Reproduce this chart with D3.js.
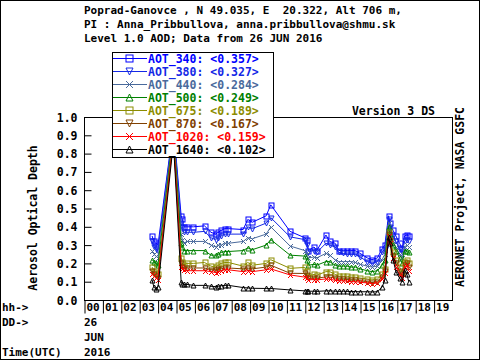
<!DOCTYPE html>
<html><head><meta charset="utf-8">
<script src="https://cdn.jsdelivr.net/npm/d3@7"></script>
<style>
body{margin:0;background:#fff}
svg{display:block}
text{font-family:"DejaVu Sans Mono",monospace;font-weight:bold;white-space:pre}
</style>
</head><body>
<svg id="c" width="480" height="360"></svg>
<script>
const hours = [3.70,3.80,3.91,4.02,4.86,5.28,5.35,5.42,5.60,5.95,6.55,6.90,7.15,7.30,7.45,7.65,7.85,8.65,8.90,9.15,9.90,10.15,11.20,12.00,12.10,12.20,12.50,12.65,13.15,13.35,13.65,13.85,14.10,14.30,14.50,14.75,15.00,15.40,15.65,15.95,16.20,16.35,16.55,16.63,16.80,16.95,17.15,17.30,17.42,17.55,17.65];
const aot340 = [0.35,0.32,0.31,0.30,0.95,0.46,0.44,0.40,0.40,0.40,0.405,0.37,0.36,0.37,0.38,0.39,0.39,0.385,0.44,0.425,0.46,0.52,0.375,0.34,0.33,0.27,0.29,0.27,0.355,0.32,0.31,0.27,0.27,0.27,0.27,0.27,0.255,0.23,0.22,0.23,0.28,0.30,0.46,0.42,0.38,0.35,0.31,0.28,0.35,0.355,0.35];
const aot380 = [0.32,0.29,0.28,0.27,0.94,0.42,0.40,0.37,0.37,0.37,0.375,0.34,0.33,0.34,0.35,0.36,0.36,0.36,0.40,0.39,0.42,0.45,0.345,0.33,0.30,0.265,0.27,0.26,0.31,0.30,0.29,0.26,0.255,0.25,0.25,0.25,0.235,0.21,0.20,0.21,0.26,0.28,0.44,0.40,0.35,0.32,0.28,0.26,0.32,0.33,0.32];
const aot440 = [0.27,0.25,0.24,0.23,0.93,0.36,0.33,0.31,0.32,0.32,0.32,0.30,0.29,0.30,0.30,0.31,0.31,0.32,0.34,0.335,0.36,0.40,0.295,0.27,0.25,0.23,0.235,0.23,0.255,0.245,0.22,0.21,0.21,0.21,0.21,0.205,0.195,0.185,0.18,0.185,0.22,0.25,0.42,0.38,0.32,0.29,0.25,0.23,0.29,0.30,0.29];
const aot500 = [0.22,0.21,0.20,0.19,0.92,0.31,0.29,0.27,0.27,0.27,0.27,0.245,0.245,0.25,0.26,0.265,0.265,0.27,0.285,0.275,0.30,0.33,0.245,0.24,0.22,0.19,0.195,0.19,0.21,0.21,0.19,0.185,0.185,0.185,0.18,0.18,0.17,0.16,0.155,0.16,0.19,0.22,0.40,0.36,0.30,0.27,0.23,0.20,0.27,0.27,0.26];
const aot675 = [0.18,0.16,0.15,0.14,0.90,0.23,0.21,0.19,0.20,0.20,0.205,0.185,0.18,0.19,0.20,0.205,0.205,0.185,0.205,0.19,0.20,0.22,0.173,0.178,0.16,0.13,0.14,0.135,0.155,0.155,0.14,0.13,0.13,0.13,0.125,0.125,0.12,0.115,0.11,0.115,0.14,0.17,0.37,0.33,0.26,0.22,0.18,0.15,0.21,0.22,0.20];
const aot870 = [0.16,0.14,0.13,0.12,0.89,0.20,0.18,0.17,0.175,0.175,0.175,0.165,0.165,0.17,0.17,0.175,0.175,0.17,0.175,0.17,0.18,0.19,0.146,0.145,0.135,0.118,0.12,0.118,0.127,0.125,0.12,0.115,0.115,0.112,0.11,0.11,0.105,0.10,0.095,0.10,0.125,0.16,0.36,0.32,0.24,0.20,0.16,0.13,0.19,0.20,0.18];
const aot1020 = [0.14,0.13,0.12,0.11,0.88,0.18,0.17,0.165,0.16,0.16,0.16,0.155,0.15,0.155,0.16,0.165,0.165,0.155,0.16,0.155,0.165,0.17,0.137,0.125,0.12,0.11,0.112,0.11,0.115,0.113,0.108,0.105,0.105,0.103,0.10,0.10,0.097,0.093,0.09,0.093,0.115,0.15,0.35,0.31,0.23,0.18,0.14,0.12,0.18,0.19,0.16];
const aot1640 = [0.11,0.07,0.06,0.07,0.86,0.10,0.09,0.085,0.085,0.08,0.08,0.075,0.073,0.075,0.078,0.08,0.08,0.068,0.066,0.064,0.063,0.063,0.055,0.05,0.05,0.048,0.048,0.047,0.05,0.05,0.048,0.047,0.048,0.047,0.046,0.046,0.045,0.045,0.044,0.045,0.07,0.11,0.345,0.31,0.22,0.155,0.12,0.10,0.165,0.14,0.10];

const seriesNames = ["AOT_340","AOT_380","AOT_440","AOT_500","AOT_675","AOT_870","AOT_1020","AOT_1640"];
const seriesMeans = ["0.357","0.327","0.284","0.249","0.189","0.167","0.159","0.102"];
const seriesColors = ["#0000ff","#1428e6","#4a6a9c","#008000","#8c8c00","#804000","#ff0000","#000000"];
const seriesMarkers = ["square","tridown","cross","triup","square","tridown","cross","triup"];
const yTicks = [0,0.1,0.2,0.3,0.4,0.5,0.6,0.7,0.8,0.9,1.0];
const hourTicks = [0,1,2,3,4,5,6,7,8,9,10,11,12,13,14,15,16,17,18,19];
const hourLabels = ["00","01","02","03","04","05","06","07","08","09","10","11","12","13","14","15","16","17","18","19"];
const headerLines = ["Poprad-Ganovce , N 49.035, E  20.322, Alt 706 m,","PI : Anna_Pribbullova, anna.pribbullova@shmu.sk","Level 1.0 AOD; Data from 26 JUN 2016"];

const values = [aot340,aot380,aot440,aot500,aot675,aot870,aot1020,aot1640];
const series = seriesNames.map((n,i)=>({name:n,mean:seriesMeans[i],color:seriesColors[i],marker:seriesMarkers[i],
  pts:hours.map((h,j)=>({h:h,v:values[i][j]}))}));

const svg = d3.select("#c");
const L=84,R=452,T=117,B=300;
const x = d3.scaleLinear().domain([0,20]).range([L,R]);
const y = d3.scaleLinear().domain([0,1]).range([B,T]);

// outer frame
svg.append("rect").attr("x",0.5).attr("y",0.5).attr("width",479).attr("height",359).attr("fill","none").attr("stroke","#000");

// header
svg.selectAll("text.hdr").data(headerLines).enter().append("text").attr("class","hdr")
  .attr("x",84).attr("y",(d,i)=>14+i*14).attr("font-size","11px").text(d=>d);

// plot box
svg.append("rect").attr("x",L+0.5).attr("y",T+0.5).attr("width",R-L).attr("height",B-T).attr("fill","none").attr("stroke","#000");

// y axis
const ya = svg.append("g").attr("transform",`translate(${L+0.5},0)`)
  .call(d3.axisLeft(y).tickValues(yTicks).tickSize(-7).tickSizeOuter(0).tickPadding(7).tickFormat(d3.format(".1f")));
ya.select(".domain").remove();
ya.selectAll("text").attr("font-size","11.5px").attr("font-family","DejaVu Sans Mono").attr("font-weight","bold").attr("dy","0.35em");
ya.selectAll("line").attr("stroke","#000");

// x axis
const xa = svg.append("g").attr("transform",`translate(0.5,${B+0.5})`)
  .call(d3.axisBottom(x).tickValues(hourTicks).tickSize(13).tickSizeOuter(0).tickFormat(i=>hourLabels[i]));
xa.select(".domain").remove();
xa.selectAll("text").attr("text-anchor","start").attr("x",1.5).attr("y",7).attr("dy","0.35em")
  .attr("font-size","11px").attr("font-family","DejaVu Sans Mono").attr("font-weight","bold");
xa.selectAll("line").attr("stroke","#000");

// left bottom labels
const lab = [["hh->",2,307],["DD->",2,322],["Time(UTC)",2,352],["26",84,322],["JUN",84,337],["2016",84,352]];
svg.selectAll("text.lab").data(lab).enter().append("text").attr("class","lab")
  .attr("x",d=>d[1]).attr("y",d=>d[2]).attr("dy","0.35em").attr("font-size","11px").text(d=>d[0]);

// y label
svg.append("text").attr("transform","translate(37,218) rotate(-90)").attr("text-anchor","middle")
  .attr("font-size","11.5px").text("Aerosol Optical Depth");
// right label
svg.append("text").attr("transform","translate(464,197) rotate(-90)").attr("text-anchor","middle")
  .attr("font-size","11.5px").text("AERONET Project, NASA GSFC");
svg.append("text").attr("x",435).attr("y",111).attr("dy","0.35em").attr("text-anchor","end")
  .attr("font-size","11.5px").text("Version 3 DS");

function marker(g,type,color,s){
  if(type==="square"){
    g.append("rect").attr("x",-s).attr("y",-s).attr("width",2*s).attr("height",2*s).attr("fill","none").attr("stroke",color);
  } else if(type==="triup"){
    g.append("path").attr("d",`M${-s},${s}L0,${-s}L${s},${s}Z`).attr("fill","none").attr("stroke",color);
  } else if(type==="tridown"){
    g.append("path").attr("d",`M${-s},${-s}L0,${s}L${s},${-s}Z`).attr("fill","none").attr("stroke",color);
  } else {
    g.append("path").attr("d",`M${-s},${-s}L${s},${s}M${-s},${s}L${s},${-s}`).attr("fill","none").attr("stroke",color);
  }
}

const line = d3.line().x(d=>x(d.h)).y(d=>y(d.v));
const plot = svg.append("g");
series.forEach(s=>{
  plot.append("path").datum(s.pts).attr("d",line).attr("fill","none").attr("stroke",s.color).attr("stroke-width",1);
  s.pts.forEach(p=>{
    const g = plot.append("g").attr("transform",`translate(${Math.round(x(p.h))+0.5},${Math.round(y(p.v))+0.5})`);
    marker(g,s.marker,s.color,2.5);
  });
});

// legend
const lg = svg.append("g");
lg.append("rect").attr("x",112.5).attr("y",52.5).attr("width",161).attr("height",105).attr("fill","#fff").attr("stroke","#000");
series.forEach((s,i)=>{
  const yy = 58.5+i*13;
  lg.append("line").attr("x1",113).attr("x2",147).attr("y1",yy).attr("y2",yy).attr("stroke",s.color);
  const g = lg.append("g").attr("transform",`translate(129.5,${yy})`);
  marker(g,s.marker,s.color,3.5);
  lg.append("text").attr("x",148).attr("y",yy).attr("dy","0.35em").attr("font-size","11.5px").attr("fill",s.color)
    .text(`${s.name}: <${s.mean}>`);
});
</script>
</body></html>
